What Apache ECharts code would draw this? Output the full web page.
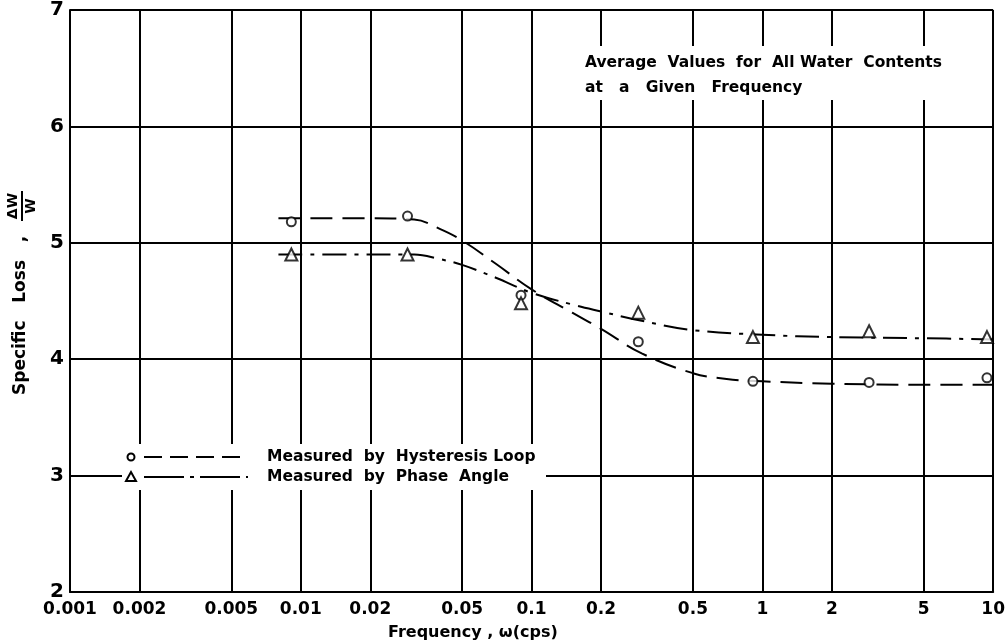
<!DOCTYPE html>
<html>
<head>
<meta charset="utf-8">
<title>Specific Loss vs Frequency</title>
<script src="https://cdn.jsdelivr.net/npm/echarts@6/dist/echarts.min.js"></script>
<style>
  html, body { margin: 0; padding: 0; background: #fff; }
  #chart { width: 1008px; height: 644px; }
</style>
</head>
<body>
<div id="chart"></div>
<script>
// tick values on the frequency axis
const xTicks = [0.001, 0.002, 0.005, 0.01, 0.02, 0.05, 0.1, 0.2, 0.5, 1, 2, 5, 10]

// measured points (frequency, specific loss)
const hystFreq = [0.0091, 0.029, 0.090, 0.29, 0.91, 2.9, 9.4]
const hystLoss = [5.18, 5.23, 4.55, 4.15, 3.81, 3.80, 3.84]
const phaseFreq = [0.0091, 0.029, 0.090, 0.29, 0.91, 2.9, 9.4]
const phaseLoss = [4.90, 4.90, 4.48, 4.40, 4.19, 4.24, 4.19]

// faired curves drawn through the points
const hystCurveFreq = [0.008, 0.02, 0.031, 0.04, 0.05, 0.07, 0.1, 0.15, 0.2, 0.3, 0.5, 0.7, 1, 2, 5, 10]
const hystCurveLoss = [5.21, 5.21, 5.20, 5.12, 5.02, 4.82, 4.60, 4.40, 4.26, 4.05, 3.88, 3.83, 3.81, 3.79, 3.78, 3.78]
const phaseCurveFreq = [0.008, 0.02, 0.031, 0.04, 0.05, 0.07, 0.1, 0.15, 0.2, 0.3, 0.5, 1, 2, 5, 10]
const phaseCurveLoss = [4.90, 4.90, 4.90, 4.86, 4.81, 4.70, 4.57, 4.47, 4.41, 4.33, 4.25, 4.21, 4.19, 4.18, 4.17]

const pairs = (xs, ys) => xs.map((x, i) => [x, ys[i]])

const font = 'DejaVu Sans'
const ink = '#000'

let myChart = echarts.init(document.getElementById('chart'))
myChart.setOption({
  backgroundColor: '#fff',
  animation: false,
  grid: { left: 70, right: 12, top: 10, bottom: 52 },
  xAxis: {
    type: 'log',
    logBase: 10,
    min: 0.001,
    max: 10,
    axisLine: { lineStyle: { color: ink, width: 2 } },
    axisTick: { show: false, customValues: xTicks },
    axisLabel: {
      customValues: xTicks,
      margin: 9,
      color: ink,
      fontFamily: font,
      fontWeight: 'bold',
      fontSize: 17,
      formatter: v => String(+(+v).toPrecision(3))
    },
    splitLine: { show: true, lineStyle: { color: ink, width: 2 } }
  },
  yAxis: {
    type: 'value',
    min: 2,
    max: 7,
    interval: 1,
    axisLine: { show: true, lineStyle: { color: ink, width: 2 } },
    axisTick: { show: false },
    axisLabel: { margin: 6, color: ink, fontFamily: font, fontWeight: 'bold', fontSize: 20 },
    splitLine: { show: true, lineStyle: { color: ink, width: 2 } }
  },
  graphic: [
    // note box, top right
    { type: 'rect', shape: { x: 576, y: 46, width: 390, height: 54 }, style: { fill: '#fff' }, z: 10 },
    { type: 'text', x: 585, y: 63, z: 11,
      style: { text: 'Average  Values  for  All Water  Contents', fill: ink, font: 'bold 15.5px ' + font, textVerticalAlign: 'middle' } },
    { type: 'text', x: 585, y: 88, z: 11,
      style: { text: 'at   a   Given   Frequency', fill: ink, font: 'bold 15.5px ' + font, textVerticalAlign: 'middle' } },
    // legend box
    { type: 'rect', shape: { x: 122, y: 444, width: 424, height: 46 }, style: { fill: '#fff' }, z: 10 },
    { type: 'circle', shape: { cx: 131, cy: 457, r: 3.5 }, style: { fill: '#fff', stroke: ink, lineWidth: 2 }, z: 11 },
    { type: 'line', shape: { x1: 144, y1: 457, x2: 248, y2: 457 }, style: { stroke: ink, lineWidth: 2, lineDash: [18, 8] }, z: 11 },
    { type: 'text', x: 267, y: 457, z: 11,
      style: { text: 'Measured  by  Hysteresis Loop', fill: ink, font: 'bold 15.5px ' + font, textVerticalAlign: 'middle' } },
    { type: 'polygon', shape: { points: [[131, 472], [126, 481], [136, 481]] }, style: { fill: '#fff', stroke: ink, lineWidth: 2 }, z: 11 },
    { type: 'line', shape: { x1: 144, y1: 477, x2: 248, y2: 477 }, style: { stroke: ink, lineWidth: 2, lineDash: [40, 6, 4, 6] }, z: 11 },
    { type: 'text', x: 267, y: 477, z: 11,
      style: { text: 'Measured  by  Phase  Angle', fill: ink, font: 'bold 15.5px ' + font, textVerticalAlign: 'middle' } },
    // x axis name
    { type: 'text', x: 388, y: 633, z: 11,
      style: { text: 'Frequency , ω(cps)', fill: ink, font: 'bold 16px ' + font, textVerticalAlign: 'middle' } },
    // y axis name with the ΔW / W fraction
    {
      type: 'group', x: 21, y: 300, rotation: Math.PI / 2, z: 11,
      children: [
        { type: 'text', x: -95, y: 0,
          style: { text: 'Specific   Loss   ,', fill: ink, font: 'bold 17px ' + font, textVerticalAlign: 'middle' } },
        { type: 'text', x: 94, y: -8,
          style: { text: 'ΔW', fill: ink, font: 'bold 14px ' + font, textAlign: 'center', textVerticalAlign: 'middle' } },
        { type: 'line', shape: { x1: 79, y1: 1, x2: 109, y2: 1 }, style: { stroke: ink, lineWidth: 2 } },
        { type: 'text', x: 94, y: 10,
          style: { text: 'W', fill: ink, font: 'bold 14px ' + font, textAlign: 'center', textVerticalAlign: 'middle' } }
      ]
    }
  ],
  series: [
    {
      name: 'Hysteresis curve',
      type: 'line',
      data: pairs(hystCurveFreq, hystCurveLoss),
      smooth: 0.4,
      showSymbol: false,
      lineStyle: { color: ink, width: 2, type: [22, 10] },
      z: 3
    },
    {
      name: 'Phase curve',
      type: 'line',
      data: pairs(phaseCurveFreq, phaseCurveLoss),
      smooth: 0.4,
      showSymbol: false,
      lineStyle: { color: ink, width: 2, type: [24, 8, 4, 8] },
      z: 3
    },
    {
      name: 'Measured by Hysteresis Loop',
      type: 'scatter',
      data: pairs(hystFreq, hystLoss),
      symbol: 'circle',
      symbolSize: 9,
      itemStyle: { color: '#fff', borderColor: ink, borderWidth: 2 },
      z: 4
    },
    {
      name: 'Measured by Phase Angle',
      type: 'scatter',
      data: pairs(phaseFreq, phaseLoss),
      symbol: 'triangle',
      symbolSize: 12,
      itemStyle: { color: '#fff', borderColor: ink, borderWidth: 2 },
      z: 4
    }
  ]
})
window.onresize = function () {
  myChart.resize()
}
</script>
</body>
</html>
